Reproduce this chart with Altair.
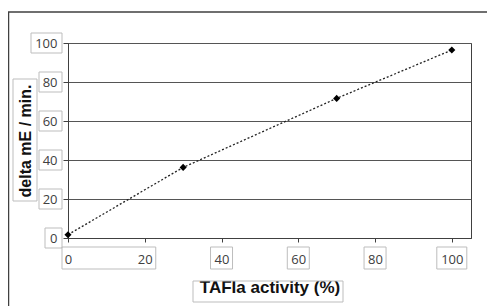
import altair as alt
import pandas as pd

# ---- data ----
activity = [0, 30, 70, 100]          # TAFIa activity (%)
delta_me = [1.7, 36.2, 71.6, 96.4]   # delta mE / min.
x_ticks = [0, 20, 40, 60, 80, 100]
y_ticks = [0, 20, 40, 60, 80, 100]

W, H = 403, 195
BOX = "#bdbdbd"
DARK = "#404040"

df = pd.DataFrame({"x": activity, "y": delta_me})
xs = alt.Scale(domain=[0, 105], nice=False)
ys = alt.Scale(domain=[0, 100], nice=False)

x_axis = alt.Axis(values=x_ticks, grid=False, tickSize=4, tickColor=DARK,
                  domainColor=DARK, labelPadding=11, labelFont="Open Sans",
                  labelFontSize=13, labelColor=DARK, labelFlush=False,
                  labelOverlap=False,
                  title="TAFIa activity (%)", titleFont="Liberation Sans",
                  titleFontSize=17, titleFontWeight="bold", titleColor="#111",
                  titleX=W / 2, titleY=49, titleBaseline="middle")
y_axis = alt.Axis(values=y_ticks, grid=True, gridColor="#555555", tickSize=5,
                  tickColor=DARK, domainColor=DARK, labelPadding=6,
                  labelFont="Open Sans", labelFontSize=13, labelColor=DARK,
                  labelFlush=False, labelOverlap=False,
                  title="delta mE / min.", titleFont="Liberation Sans",
                  titleFontSize=16, titleFontWeight="bold", titleColor="#111",
                  titleX=-43, titleY=H / 2, titleAngle=270,
                  titleBaseline="middle", titleAlign="center")


def X(f):
    return alt.X(f, type="quantitative", scale=xs, axis=x_axis)


def Y(f):
    return alt.Y(f, type="quantitative", scale=ys, axis=y_axis)


line = alt.Chart(df).mark_line(color="#222", strokeDash=[2, 2],
                               strokeWidth=1.3).encode(x=X("x"), y=Y("y"))
pts = alt.Chart(df).mark_point(shape="diamond", filled=True, size=50,
                               color="black", opacity=1).encode(x=X("x"), y=Y("y"))

# label boxes (Excel-style bordered labels)
xt = pd.DataFrame({"v": x_ticks})
box_style = dict(fillOpacity=0, stroke=BOX, strokeWidth=1)
xb_pair = alt.Chart(xt[xt.v == 0].assign(v2=20)).mark_rect(
    xOffset=-6, x2Offset=11, **box_style).encode(
    x=X("v"), x2="v2:Q", y=alt.value(204), y2=alt.value(226))
xb_two = alt.Chart(xt[(xt.v >= 40) & (xt.v < 100)]).mark_rect(
    xOffset=-11, x2Offset=11, **box_style).encode(
    x=X("v"), x2="v:Q", y=alt.value(204), y2=alt.value(226))
xb_three = alt.Chart(xt[xt.v == 100]).mark_rect(
    xOffset=-15, x2Offset=15, **box_style).encode(
    x=X("v"), x2="v:Q", y=alt.value(204), y2=alt.value(226))

yt = pd.DataFrame({"v": y_ticks})


def ybox(sub, w):
    return alt.Chart(sub).mark_rect(yOffset=-10, y2Offset=10, **box_style).encode(
        y=Y("v"), y2="v:Q", x=alt.value(-6 - w), x2=alt.value(-6))


yb1 = ybox(yt[yt.v < 10], 17)
yb2 = ybox(yt[(yt.v >= 10) & (yt.v < 100)], 23)
yb3 = ybox(yt[yt.v == 100], 31)

# title boxes and outer frame
xtitle_box = alt.Chart(xt.head(1)).mark_rect(**box_style).encode(
    x=alt.value(125), x2=alt.value(275), y=alt.value(238), y2=alt.value(259))
ytitle_box = alt.Chart(xt.head(1)).mark_rect(**box_style).encode(
    x=alt.value(-55), x2=alt.value(-31), y=alt.value(36), y2=alt.value(158))
frame = alt.Chart(xt.head(1)).mark_rect(fillOpacity=0, stroke=DARK,
                                        strokeWidth=1.5).encode(
    x=alt.value(-59.5), x2=alt.value(500), y=alt.value(-31), y2=alt.value(320))

chart = alt.layer(
    line, frame, xb_pair, xb_two, xb_three, yb1, yb2, yb3,
    xtitle_box, ytitle_box, pts
).properties(
    width=W, height=H,
    autosize=alt.AutoSizeParams(type="none"),
    padding={"left": 60, "top": 35, "right": 16, "bottom": 68},
    background="white",
).configure_view(stroke=DARK, strokeWidth=1)

chart.save("out.html", embed_options={"renderer": "svg", "actions": False})
